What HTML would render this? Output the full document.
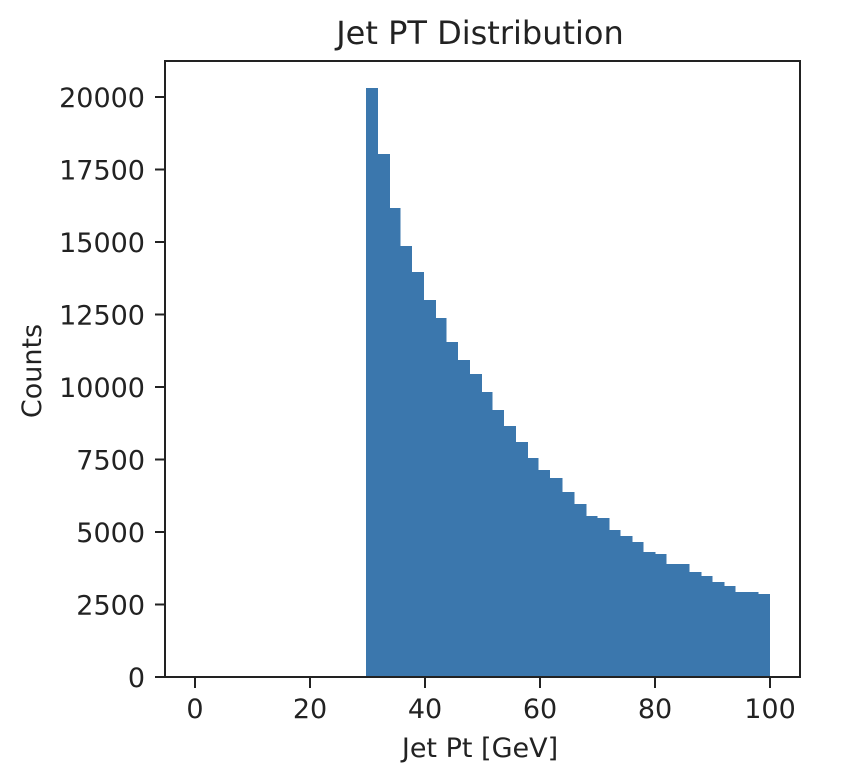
<!DOCTYPE html>
<html><head><meta charset="utf-8"><style>body{margin:0;background:#fff}svg{display:block}text{font-family:"DejaVu Sans","Liberation Sans",sans-serif;fill:#222}</style></head>
<body>
<svg width="844" height="776" viewBox="0 0 844 776" xmlns="http://www.w3.org/2000/svg">
<g fill="#3b77ad">
<rect x="366" y="88" width="12" height="589"/>
<rect x="378" y="154" width="12" height="523"/>
<rect x="390" y="208" width="10.5" height="469"/>
<rect x="400" y="246" width="12" height="431"/>
<rect x="412" y="272" width="12" height="405"/>
<rect x="424" y="300" width="12" height="377"/>
<rect x="436" y="318" width="10.5" height="359"/>
<rect x="446" y="342" width="12" height="335"/>
<rect x="458" y="360" width="12" height="317"/>
<rect x="470" y="374" width="12" height="303"/>
<rect x="482" y="392" width="10.5" height="285"/>
<rect x="492" y="410" width="12" height="267"/>
<rect x="504" y="426" width="12" height="251"/>
<rect x="516" y="442" width="12" height="235"/>
<rect x="528" y="458" width="10.5" height="219"/>
<rect x="538" y="470" width="12" height="207"/>
<rect x="550" y="478" width="12.5" height="199"/>
<rect x="562" y="492" width="12.5" height="185"/>
<rect x="574" y="504" width="12.5" height="173"/>
<rect x="586" y="516" width="11.5" height="161"/>
<rect x="597" y="518" width="12.5" height="159"/>
<rect x="609" y="530" width="11.5" height="147"/>
<rect x="620" y="536" width="12.5" height="141"/>
<rect x="632" y="542" width="11.5" height="135"/>
<rect x="643" y="552" width="12.5" height="125"/>
<rect x="655" y="554" width="11.5" height="123"/>
<rect x="666" y="564" width="23.5" height="113"/>
<rect x="689" y="572" width="12.5" height="105"/>
<rect x="701" y="576" width="11.5" height="101"/>
<rect x="712" y="582" width="12.5" height="95"/>
<rect x="724" y="586" width="11.5" height="91"/>
<rect x="735" y="592" width="23.5" height="85"/>
<rect x="758" y="594" width="12" height="83"/>
</g>
<rect x="165" y="61" width="635" height="616" fill="none" stroke="#222" stroke-width="2"/>
<g stroke="#222" stroke-width="2">
<line x1="195" y1="677" x2="195" y2="688"/>
<line x1="310" y1="677" x2="310" y2="688"/>
<line x1="425" y1="677" x2="425" y2="688"/>
<line x1="540" y1="677" x2="540" y2="688"/>
<line x1="655" y1="677" x2="655" y2="688"/>
<line x1="770" y1="677" x2="770" y2="688"/>
<line x1="155" y1="677" x2="165" y2="677"/>
<line x1="155" y1="604.5" x2="165" y2="604.5"/>
<line x1="155" y1="532" x2="165" y2="532"/>
<line x1="155" y1="459.5" x2="165" y2="459.5"/>
<line x1="155" y1="387" x2="165" y2="387"/>
<line x1="155" y1="314.5" x2="165" y2="314.5"/>
<line x1="155" y1="242" x2="165" y2="242"/>
<line x1="155" y1="169.5" x2="165" y2="169.5"/>
<line x1="155" y1="97" x2="165" y2="97"/>
</g>
<g font-size="27" text-anchor="middle">
<text x="195" y="718">0</text>
<text x="310" y="718">20</text>
<text x="425" y="718">40</text>
<text x="540" y="718">60</text>
<text x="655" y="718">80</text>
<text x="770" y="718">100</text>
</g>
<g font-size="27" text-anchor="end">
<text x="145" y="687">0</text>
<text x="145" y="614.5">2500</text>
<text x="145" y="542">5000</text>
<text x="145" y="469.5">7500</text>
<text x="145" y="397">10000</text>
<text x="145" y="324.5">12500</text>
<text x="145" y="252">15000</text>
<text x="145" y="179.5">17500</text>
<text x="145" y="107">20000</text>
</g>
<text x="480" y="757" font-size="27" text-anchor="middle">Jet Pt [GeV]</text>
<text x="0" y="0" font-size="27" text-anchor="middle" transform="translate(41 371) rotate(-90)">Counts</text>
<text x="480" y="44" font-size="32" text-anchor="middle">Jet PT Distribution</text>
</svg>
</body></html>
